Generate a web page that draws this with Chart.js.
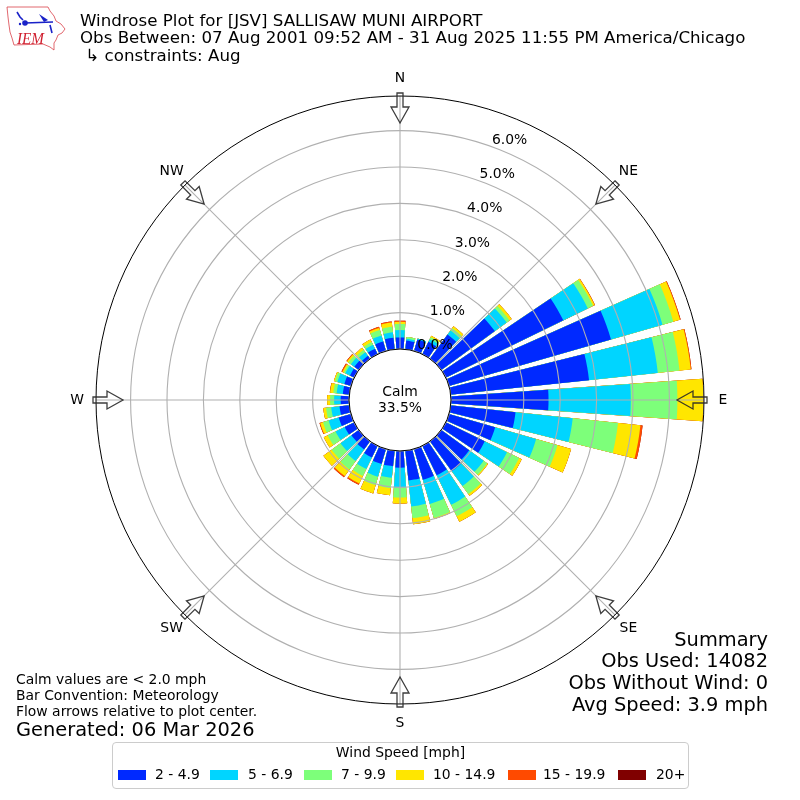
<!DOCTYPE html>
<html>
<head>
<meta charset="utf-8">
<script src="https://cdn.jsdelivr.net/npm/chart.js@4"></script>
<style>
body{margin:0;background:#fff;font-family:"DejaVu Sans",sans-serif;color:#000}
#wrap{position:relative;width:800px;height:800px;overflow:hidden}
canvas{position:absolute;left:0;top:0}
.t{position:absolute;white-space:pre;transform:translateY(-50%);line-height:1}
#legend{position:absolute;left:112px;top:742px;width:575px;height:45px;border:1px solid #ccc;border-radius:4px;background:#fff}
.sw{position:absolute;top:27px;width:28px;height:9.5px}
</style>
</head>
<body>
<div id="wrap">
<canvas id="rose" width="800" height="800"></canvas>
<svg style="position:absolute;left:0;top:0" width="70" height="55">
<path d="M7 7 L48 7 L50 11 L54 16 L56 21 L61 24 L65 29 L62 33 L58 35 L56 40 L54 43 L54 50 L50 47 L43 44 L14 45 L12 38 L10 32 L9 25 L8 17 Z" fill="#fff" stroke="#d9414a" stroke-width="0.8"/>
<path d="M25 23 L53 22 M17 12 L20 17 L23 20 M50 25 L52 33" fill="none" stroke="#1a22c8" stroke-width="1.6"/>
<path d="M39 14 L48 20 L44 22 Z" fill="#1a22c8"/>
<circle cx="25" cy="23" r="2.8" fill="#1a22c8"/><circle cx="20" cy="24" r="1.2" fill="#1a22c8"/>
<text x="17" y="44" font-family="Liberation Serif" font-style="italic" font-size="17" textLength="27" lengthAdjust="spacingAndGlyphs" fill="#d02030">IEM</text>
</svg>
<div class="t" style="left:80px;top:21px;font-size:16.67px">Windrose Plot for [JSV] SALLISAW MUNI AIRPORT</div>
<div class="t" style="left:80px;top:38px;font-size:16.67px">Obs Between: 07 Aug 2001 09:52 AM - 31 Aug 2025 11:55 PM America/Chicago</div>
<div class="t" style="left:80px;top:56px;font-size:16.67px"> ↳ constraints: Aug</div>
<div class="t" style="left:16px;top:680px;font-size:13.9px">Calm values are &lt; 2.0 mph</div>
<div class="t" style="left:16px;top:696px;font-size:13.9px">Bar Convention: Meteorology</div>
<div class="t" style="left:16px;top:712px;font-size:13.9px">Flow arrows relative to plot center.</div>
<div class="t" style="left:16px;top:730px;font-size:19.4px">Generated: 06 Mar 2026</div>
<div class="t" style="right:32px;top:640px;font-size:19.4px">Summary</div>
<div class="t" style="right:32px;top:661px;font-size:19.4px">Obs Used: 14082</div>
<div class="t" style="right:32px;top:683px;font-size:19.4px">Obs Without Wind: 0</div>
<div class="t" style="right:32px;top:705px;font-size:19.4px">Avg Speed: 3.9 mph</div>
<div id="legend"></div>
</div>
<script>
// direction bins, every 10 deg clockwise from north
const directions = [0,10,20,30,40,50,60,70,80,90,100,110,120,130,140,150,160,170,180,190,200,210,220,230,240,250,260,270,280,290,300,310,320,330,340,350];
const speedLabels = ['2 - 4.9','5 - 6.9','7 - 9.9','10 - 14.9','15 - 19.9','20+'];
const speedColors = ['#0029ff','#00d5ff','#7dff7a','#ffe600','#ff4a00','#800000'];
const speed2 = [.32,.24,.33,.38,.82,1.82,3.59,4.63,3.82,2.68,1.79,1.32,1.19,.95,1.02,.9,.88,.82,.46,.43,.43,.36,.28,.25,.29,.35,.27,.23,.18,.19,.13,.15,.1,.17,.27,.32];
const speed5 = [.20,.05,.03,.08,.14,.40,.75,1.47,1.90,2.26,1.58,1.17,.68,.49,.5,.9,.69,.72,.54,.32,.36,.35,.39,.37,.28,.29,.23,.18,.17,.2,.14,.12,.12,.12,.17,.15];
const speed7 = [.17,.05,0,.06,.08,.10,.16,.31,.60,1.28,1.25,.61,.37,.12,.27,.35,.4,.32,.28,.28,.24,.21,.29,.3,.24,.16,.14,.11,.09,.07,.05,.08,.08,.08,.16,.15];
const speed10 = [.06,0,0,.04,.06,.07,.05,.19,.31,.71,.62,.39,.08,.03,.06,.17,.03,.17,.16,.2,.24,.23,.22,.28,.12,.08,.08,.08,.09,.03,.04,.05,.07,.08,.06,.12];
const speed15 = [.03,0,0,0,0,0,.01,.02,.02,0,.06,0,0,0,0,0,0,0,0,0,0,.04,.04,0,0,.02,0,0,.01,0,.03,.02,0,0,.03,.03];
const speed20 = [0,0,0,0,0,0,0,0,0,0,0,0,0,0,0,0,0,0,0,0,0,0,0,0,0,0,0,0,0,0,0,0,0,0,0,0];
const speedSeries = [speed2,speed5,speed7,speed10,speed15,speed20];
const rTicks = [0,1,2,3,4,5,6];
const compass = ['N','NE','E','SE','S','SW','W','NW'];
const calmLabel = ['Calm','33.5%'];

// polarArea has no stacking, so each ring is the running total; dataset 0 paints last
function cumulated(upto){
  return directions.map((d,i)=>speedSeries.slice(0,upto+1).reduce((a,s)=>a+s[i],0));
}
// every second slice is an empty 2 deg gap between the 8 deg bars
const withGaps = arr => arr.flatMap(v=>[v,0]);

const roseDecor = {
  id:'roseDecor',
  afterDraw(chart){
    const s = chart.scales.r, c = chart.ctx;
    const cx = s.xCenter, cy = s.yCenter, R = s.drawingArea;
    const r0 = s.getDistanceFromCenterForValue(0);
    const dirXY = (deg,r)=>[cx+r*Math.sin(deg*Math.PI/180),cy-r*Math.cos(deg*Math.PI/180)];
    c.save();
    // spokes
    c.strokeStyle='#b0b0b0';c.lineWidth=1.1;
    compass.forEach((n,i)=>{
      const a=dirXY(i*45,r0),b=dirXY(i*45,R);
      c.beginPath();c.moveTo(a[0],a[1]);c.lineTo(b[0],b[1]);c.stroke();
    });
    // outer frame and calm disc
    c.strokeStyle='#000';c.lineWidth=1;
    c.beginPath();c.arc(cx,cy,R,0,Math.PI*2);c.stroke();
    c.fillStyle='#fff';
    c.beginPath();c.arc(cx,cy,r0,0,Math.PI*2);c.fill();c.stroke();
    c.fillStyle='#000';c.font='13.9px "DejaVu Sans"';c.textAlign='center';c.textBaseline='middle';
    c.fillText(calmLabel[0],cx,cy-8);c.fillText(calmLabel[1],cx,cy+8);
    // radial tick labels sit on the 20 deg line, text starts at the point
    rTicks.forEach(v=>{
      const p=dirXY(20,s.getDistanceFromCenterForValue(v));
      c.fillText(v.toFixed(1)+'%',p[0]+17.5,p[1]-6.5);
    });
    // compass labels and flow arrows
    compass.forEach((n,i)=>{
      const p=dirXY(i*45,323);
      c.fillStyle='#000';
      c.fillText(n,p[0],p[1]+(i===0?1:0));
      c.save();
      c.translate(cx,cy);c.rotate(i*Math.PI/4);
      c.strokeStyle='rgba(40,40,40,.9)';c.lineWidth=1.3;
      c.beginPath();
      c.moveTo(-3,-R-3);c.lineTo(3,-R-3);c.lineTo(3,-R+11);c.lineTo(9,-R+11);c.lineTo(0,-R+27);c.lineTo(-9,-R+11);c.lineTo(-3,-R+11);
      c.closePath();c.stroke();
      c.restore();
    });
    c.restore();
  }
};

new Chart(document.getElementById('rose'),{
  type:'polarArea',
  data:{
    labels:directions.flatMap(d=>[d+'',d+' gap']),
    datasets:speedLabels.map((l,i)=>({
      label:l,
      data:withGaps(cumulated(i)),
      backgroundColor:speedColors[i],
      borderWidth:0,
      angle:ctx=>ctx.dataIndex%2?2:8
    }))
  },
  options:{
    responsive:false,
    animation:false,
    layout:{padding:96},
    plugins:{legend:{display:false},tooltip:{enabled:false}},
    scales:{r:{
      min:-1.40,max:6.95,
      startAngle:-4,
      afterBuildTicks:s=>{s.ticks=rTicks.map(v=>({value:v}))},
      ticks:{display:false},
      pointLabels:{display:false},
      angleLines:{display:false},
      grid:{color:'#b0b0b0',lineWidth:1.1,z:1}
    }}
  },
  plugins:[roseDecor]
});

// legend
const lg=document.getElementById('legend');
const swX=[5,97,191,283,395,505],txX=[42,135,228,320,430,543];
const ttl=document.createElement('div');
ttl.className='t';ttl.textContent='Wind Speed [mph]';ttl.style.cssText='left:0;right:0;text-align:center;top:10px;font-size:13.9px';
lg.appendChild(ttl);
speedLabels.forEach((l,i)=>{
  const b=document.createElement('div');b.className='sw';b.style.left=swX[i]+'px';b.style.background=speedColors[i];lg.appendChild(b);
  const t=document.createElement('div');t.className='t';t.textContent=l;t.style.cssText='left:'+txX[i]+'px;top:31.5px;font-size:13.9px';lg.appendChild(t);
});
</script>
</body>
</html>
